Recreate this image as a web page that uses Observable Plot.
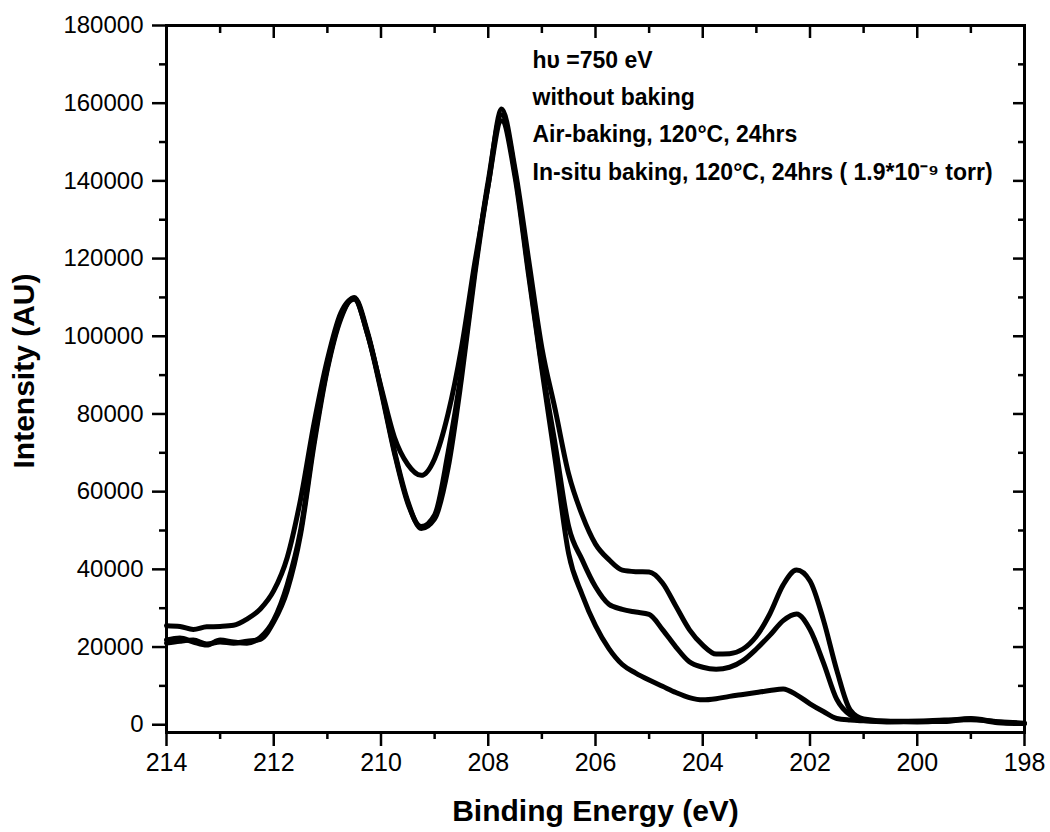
<!DOCTYPE html>
<html>
<head>
<meta charset="utf-8">
<script src="https://cdn.jsdelivr.net/npm/d3@7"></script>
<script src="https://cdn.jsdelivr.net/npm/@observablehq/plot@0.6"></script>
<style>
  html, body { margin: 0; padding: 0; background: white; }
</style>
</head>
<body>
<div id="chart"></div>
<script>
// Binding energy grid (eV)
const energy = [214, 213.75, 213.5, 213.25, 213, 212.75, 212.5, 212.25, 212, 211.75, 211.5, 211.25, 211, 210.75, 210.5, 210.25, 210, 209.75, 209.5, 209.25, 209, 208.75, 208.5, 208.25, 208, 207.75, 207.5, 207.25, 207, 206.75, 206.5, 206.25, 206, 205.75, 205.5, 205.25, 205, 204.75, 204.5, 204.25, 204, 203.75, 203.5, 203.25, 203, 202.75, 202.5, 202.25, 202, 201.75, 201.5, 201.25, 201, 200.5, 200, 199.5, 199, 198.5, 198];

// Intensity (AU) per series
const withoutBaking = [25500, 25300, 24500, 25200, 25300, 25600, 27200, 29800, 34500, 43000, 58000, 77500, 94000, 106000, 109800, 100500, 87000, 74000, 67000, 64200, 68500, 80000, 97000, 119000, 139000, 158500, 143000, 120000, 97000, 81000, 64500, 54000, 46500, 42500, 39800, 39400, 39300, 36500, 30500, 24500, 20500, 18200, 18300, 19500, 22800, 28500, 36000, 39800, 37000, 27000, 14000, 3800, 1500, 900, 900, 1200, 1300, 800, 400];
const airBaking = [21800, 22300, 21300, 20500, 21800, 21300, 21000, 22500, 27000, 36000, 50000, 73000, 92000, 105000, 109500, 100500, 86000, 70000, 57000, 51000, 54000, 70000, 91000, 117000, 140000, 157000, 142000, 117000, 92500, 72000, 51000, 42500, 35500, 31000, 29700, 29000, 28400, 24500, 20000, 16200, 14800, 14300, 14800, 16500, 19500, 23000, 26800, 28500, 24500, 16000, 6500, 2500, 1300, 800, 700, 1000, 1600, 700, 300];
const inSituBaking = [21000, 21500, 21800, 20800, 21300, 21000, 21500, 22000, 26500, 34500, 49000, 72000, 91500, 104500, 110000, 101000, 86500, 70500, 57500, 50500, 53000, 66000, 89000, 116000, 139000, 155500, 141000, 116000, 91500, 68000, 44000, 33500, 25500, 19600, 15500, 13300, 11500, 9900, 8300, 7000, 6400, 6700, 7300, 7800, 8300, 8800, 9200, 7700, 5400, 3400, 1600, 1200, 1000, 700, 900, 800, 1500, 500, 300];

const seriesNames = ["without baking", "Air-baking, 120°C, 24hrs", "In-situ baking, 120°C, 24hrs ( 1.9*10⁻⁹ torr)"];
const seriesValues = [withoutBaking, airBaking, inSituBaking];

const legendLines = ["hυ =750 eV", ...seriesNames];

const xMajorTicks = [214, 212, 210, 208, 206, 204, 202, 200, 198];
const xMinorTicks = [213, 211, 209, 207, 205, 203, 201, 199];
const yMajorTicks = [0, 20000, 40000, 60000, 80000, 100000, 120000, 140000, 160000, 180000];
const yMinorTicks = [10000, 30000, 50000, 70000, 90000, 110000, 130000, 150000, 170000];

const xLabel = "Binding Energy (eV)";
const yLabel = "Intensity (AU)";

const rows = seriesNames.flatMap((name, s) =>
  energy.map((e, i) => ({series: name, energy: e, intensity: seriesValues[s][i]}))
);

const none = () => "";
const axisStroke = 2.5;

const chart = Plot.plot({
  width: 1050,
  height: 832,
  marginLeft: 166,
  marginRight: 26,
  marginTop: 25,
  marginBottom: 100,
  x: {domain: [214, 198]},
  y: {domain: [-2000, 180000]},
  style: {fontFamily: "'Liberation Sans', Arial, sans-serif", color: "black", background: "white"},
  marks: [
    // bottom axis (outward ticks)
    Plot.axisX(xMajorTicks, {anchor: "bottom", tickSize: 14, strokeWidth: axisStroke, tickPadding: 7, fontSize: 25, tickFormat: d => String(d), label: null}),
    Plot.axisX(xMinorTicks, {anchor: "bottom", tickSize: 7, strokeWidth: axisStroke, tickFormat: none, label: null}),
    // top axis (inward ticks)
    Plot.axisX(xMajorTicks, {anchor: "top", tickSize: 12, dy: 12, strokeWidth: axisStroke, tickFormat: none, label: null}),
    Plot.axisX(xMinorTicks, {anchor: "top", tickSize: 7, dy: 7, strokeWidth: axisStroke, tickFormat: none, label: null}),
    // left axis (outward ticks)
    Plot.axisY(yMajorTicks, {anchor: "left", tickSize: 14, strokeWidth: axisStroke, tickPadding: 9, fontSize: 24, tickFormat: d => String(d), label: null}),
    Plot.axisY(yMinorTicks, {anchor: "left", tickSize: 7, strokeWidth: axisStroke, tickFormat: none, label: null}),
    // right axis (inward ticks)
    Plot.axisY(yMajorTicks, {anchor: "right", tickSize: 12, dx: -12, strokeWidth: axisStroke, tickFormat: none, label: null}),
    Plot.axisY(yMinorTicks, {anchor: "right", tickSize: 7, dx: -7, strokeWidth: axisStroke, tickFormat: none, label: null}),
    // spectra
    Plot.line(rows, {x: "energy", y: "intensity", z: "series", stroke: "black", strokeWidth: 5, curve: "monotone-x", strokeLinejoin: "round", strokeLinecap: "round"}),
    // frame
    Plot.frame({stroke: "black", strokeWidth: 3}),
    // legend text
    Plot.text([legendLines.join("\n")], {frameAnchor: "top-left", dx: 366, dy: 16, lineAnchor: "top", textAnchor: "start", lineHeight: 1.62, fontSize: 23, fontWeight: "bold", fill: "black"}),
    // axis titles
    Plot.text([xLabel], {frameAnchor: "bottom", dy: 79, lineAnchor: "middle", textAnchor: "middle", fontSize: 30, fontWeight: "bold", fill: "black"}),
    Plot.text([yLabel], {frameAnchor: "left", dx: -142, dy: -8, rotate: -90, lineAnchor: "middle", textAnchor: "middle", fontSize: 30, fontWeight: "bold", fill: "black"})
  ]
});

document.getElementById("chart").appendChild(chart);
</script>
</body>
</html>
